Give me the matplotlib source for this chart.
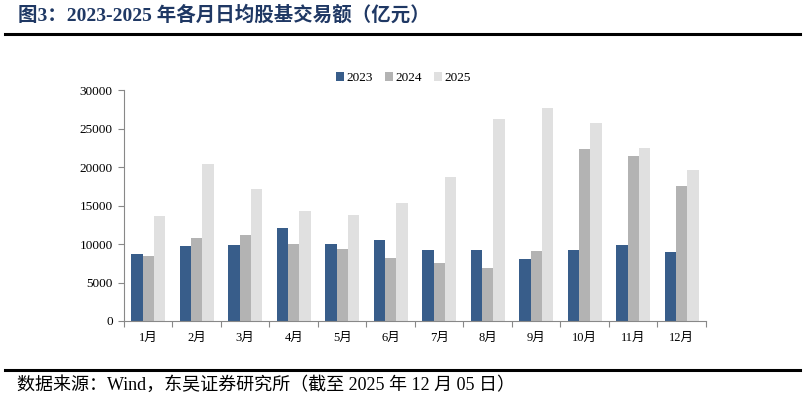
import numpy as np
import matplotlib
matplotlib.use("Agg")
import matplotlib.pyplot as plt

plt.rcParams['font.family'] = ['Liberation Serif', 'Noto Sans CJK SC', 'DejaVu Sans']

months = ['1月', '2月', '3月', '4月', '5月', '6月', '7月', '8月', '9月', '10月', '11月', '12月']
v2023 = [8760, 9800, 9930, 12140, 10060, 10490, 9280, 9280, 8110, 9190, 9930, 8930]
v2024 = [8410, 10840, 11140, 10060, 9360, 8240, 7590, 6940, 9150, 22370, 21460, 17560]
v2025 = [13610, 20380, 17120, 14260, 13790, 15350, 18770, 26230, 27610, 25750, 22460, 19680]
years = ['2023', '2024', '2025']
colors = ['#385D8A', '#B3B3B3', '#E0E0E0']

fig = plt.figure(figsize=(8.05, 4.03), dpi=100)
ax = fig.add_axes([0.154, 0.2035, 0.723, 0.573])

x = np.arange(len(months))
w = 0.235
for k, (vals, lab, c) in enumerate(zip([v2023, v2024, v2025], years, colors)):
    ax.bar(x + (k - 1) * w, vals, width=w, color=c, label=lab, zorder=2)

ax.set_xlim(-0.5, len(months) - 0.5)
ax.set_ylim(0, 30000)
ax.set_yticks(np.arange(0, 30001, 5000))
ax.set_xticks(np.arange(-0.5, len(months), 1.0))
ax.set_xticklabels([])
ax.set_xticks(x, minor=True)
ax.set_xticklabels(months, minor=True, fontsize=9)
ax.tick_params(axis='x', which='minor', length=0, pad=8)
ax.tick_params(axis='x', which='major', length=4, color='#888888', direction='out')
ax.tick_params(axis='y', length=4, color='#888888', labelsize=9.5, pad=4)
for s in ['top', 'right']:
    ax.spines[s].set_visible(False)
for s in ['left', 'bottom']:
    ax.spines[s].set_color('#888888')
    ax.spines[s].set_linewidth(0.8)

ax.legend(loc='center', bbox_to_anchor=(0.48, 1.052), ncol=3, frameon=False,
          fontsize=9.5, handlelength=0.6, handleheight=0.6, handletextpad=0.2,
          columnspacing=0.9)

fig.text(0.022, 0.962, '图3：2023-2025 年各月日均股基交易额（亿元）', fontsize=14,
         fontweight='bold', color='#1F3864', va='center')
fig.add_artist(plt.Line2D([0.006, 0.994], [0.916, 0.916], color='black', lw=2.2))
fig.add_artist(plt.Line2D([0.006, 0.994], [0.082, 0.082], color='black', lw=2.2))
fig.text(0.021, 0.044, '数据来源：Wind，东吴证券研究所（截至 2025 年 12 月 05 日）',
         fontsize=13, va='center')

fig.savefig('out.png', dpi=100)
